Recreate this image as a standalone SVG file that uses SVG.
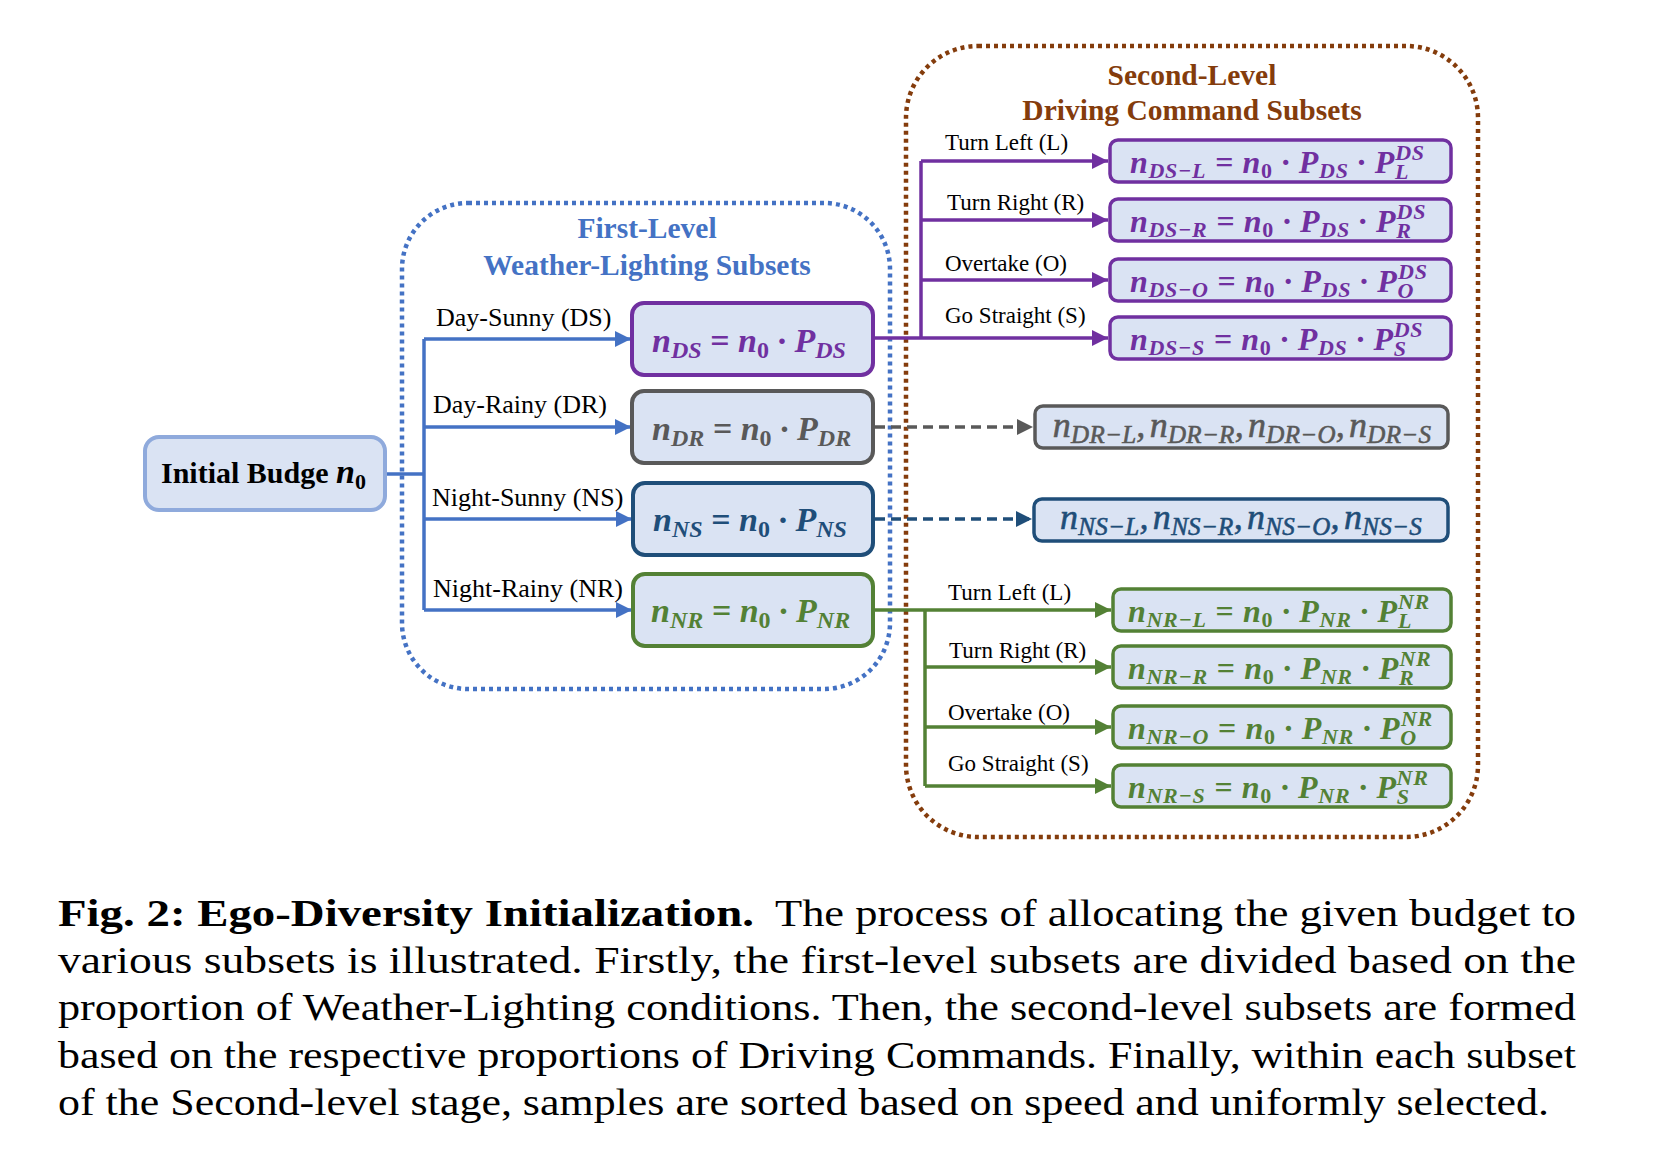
<svg xmlns="http://www.w3.org/2000/svg" width="1658" height="1151" viewBox="0 0 1658 1151">
<style>
.lbl{font-family:"Liberation Serif",serif;font-size:26px;fill:#000}
.lbl2{font-family:"Liberation Serif",serif;font-size:23px;fill:#000}
.ttl{font-family:"Liberation Serif",serif;font-size:29.5px;font-weight:bold;text-anchor:middle}
.box{fill:#DAE3F3;stroke-width:4}
.box2{fill:#DAE3F3;stroke-width:3.5}
.f1{font-family:"Liberation Serif",serif;font-weight:bold;font-style:italic;font-size:34px}
.f1 .s{font-size:24px}
.f2{font-family:"Liberation Serif",serif;font-weight:bold;font-style:italic;font-size:32px;letter-spacing:0.7px}
.f2 .s{font-size:22px}
.f3{font-family:"Liberation Serif",serif;font-style:italic;font-size:36px;letter-spacing:0.3px;text-anchor:middle;stroke-width:0.6px}
.f3 .s{font-size:25px}
.up{font-style:normal}
.cap{font-family:"Liberation Serif",serif;font-size:38px;fill:#000}
.blue{stroke:#4472C4}
.pur{stroke:#7030A0}
.grn{stroke:#538135}
.gry{stroke:#595959}
.nav{stroke:#1F4E79}
.conn{fill:none;stroke-width:3.5}
</style>
<defs>
<marker id="aB" markerUnits="userSpaceOnUse" markerWidth="16" markerHeight="16" viewBox="0 0 16 16" refX="16" refY="8" orient="auto"><path d="M0,0 L16,8 L0,16 Z" fill="#4472C4"/></marker>
<marker id="aP" markerUnits="userSpaceOnUse" markerWidth="16" markerHeight="16" viewBox="0 0 16 16" refX="16" refY="8" orient="auto"><path d="M0,0 L16,8 L0,16 Z" fill="#7030A0"/></marker>
<marker id="aG" markerUnits="userSpaceOnUse" markerWidth="16" markerHeight="16" viewBox="0 0 16 16" refX="16" refY="8" orient="auto"><path d="M0,0 L16,8 L0,16 Z" fill="#538135"/></marker>
<marker id="aY" markerUnits="userSpaceOnUse" markerWidth="16" markerHeight="16" viewBox="0 0 16 16" refX="16" refY="8" orient="auto"><path d="M0,0 L16,8 L0,16 Z" fill="#595959"/></marker>
<marker id="aN" markerUnits="userSpaceOnUse" markerWidth="16" markerHeight="16" viewBox="0 0 16 16" refX="16" refY="8" orient="auto"><path d="M0,0 L16,8 L0,16 Z" fill="#1F4E79"/></marker>
</defs>
<rect width="1658" height="1151" fill="#fff"/>

<!-- containers -->
<g id="first-level-group">
<rect x="402" y="203" width="488" height="486" rx="66" fill="none" stroke="#4472C4" stroke-width="4.5" stroke-dasharray="4 4"/>
<text class="ttl" x="647" y="238" fill="#4472C4">First-Level</text>
<text class="ttl" x="647" y="275" fill="#4472C4">Weather-Lighting Subsets</text>
</g>
<g id="second-level-group">
<rect x="906" y="46" width="572" height="791" rx="72" fill="none" stroke="#843C0C" stroke-width="4.5" stroke-dasharray="4 4"/>
<text class="ttl" x="1192" y="85" fill="#843C0C">Second-Level</text>
<text class="ttl" x="1192" y="120" fill="#843C0C">Driving Command Subsets</text>
</g>

<!-- connectors -->
<g id="connectors">
<path class="conn blue" d="M387,474 H424"/>
<path class="conn blue" d="M424,339 V610"/>
<path class="conn blue" d="M424,339 H631" marker-end="url(#aB)"/>
<path class="conn blue" d="M424,427 H631" marker-end="url(#aB)"/>
<path class="conn blue" d="M424,519 H632" marker-end="url(#aB)"/>
<path class="conn blue" d="M424,610 H632" marker-end="url(#aB)"/>

<path class="conn pur" d="M875,338 H1108" marker-end="url(#aP)"/>
<path class="conn pur" d="M921,161 V338"/>
<path class="conn pur" d="M921,161 H1108" marker-end="url(#aP)"/>
<path class="conn pur" d="M921,220 H1108" marker-end="url(#aP)"/>
<path class="conn pur" d="M921,280 H1108" marker-end="url(#aP)"/>

<path class="conn gry" stroke-width="3" stroke-dasharray="10 6" d="M875,427 H1033" marker-end="url(#aY)"/>
<path class="conn nav" stroke-width="3" stroke-dasharray="10 6" d="M875,519 H1032" marker-end="url(#aN)"/>

<path class="conn grn" d="M875,610 H1111" marker-end="url(#aG)"/>
<path class="conn grn" d="M925,610 V786"/>
<path class="conn grn" d="M925,667 H1111" marker-end="url(#aG)"/>
<path class="conn grn" d="M925,727 H1111" marker-end="url(#aG)"/>
<path class="conn grn" d="M925,786 H1111" marker-end="url(#aG)"/>

<text class="lbl" x="436" y="326">Day-Sunny (DS)</text>
<text class="lbl" x="433" y="413">Day-Rainy (DR)</text>
<text class="lbl" x="432" y="506">Night-Sunny (NS)</text>
<text class="lbl" x="433" y="597">Night-Rainy (NR)</text>

<text class="lbl2" x="945" y="150">Turn Left (L)</text>
<text class="lbl2" x="947" y="210">Turn Right (R)</text>
<text class="lbl2" x="945" y="271">Overtake (O)</text>
<text class="lbl2" x="945" y="323">Go Straight (S)</text>

<text class="lbl2" x="948" y="600">Turn Left (L)</text>
<text class="lbl2" x="949" y="658">Turn Right (R)</text>
<text class="lbl2" x="948" y="720">Overtake (O)</text>
<text class="lbl2" x="948" y="771">Go Straight (S)</text>
</g>

<!-- nodes -->
<g id="initial">
<rect x="145" y="437" width="240" height="73" rx="14" fill="#DAE3F3" stroke="#8FAADC" stroke-width="4"/>
<text x="161" y="483" font-family="Liberation Serif, serif" font-weight="bold" font-size="30" fill="#000">Initial Budge <tspan font-style="italic" font-size="34">n</tspan><tspan font-size="22" dy="6">0</tspan></text>
</g>

<g id="n-DS">
<rect class="box" x="632" y="303" width="241" height="72" rx="12" stroke="#7030A0"/>
<text class="f1" x="652" y="352" fill="#7030A0">n<tspan class="s" dy="6">DS</tspan><tspan dy="-6"> = n</tspan><tspan class="s up" dy="6">0</tspan><tspan dy="-6"> · P</tspan><tspan class="s" dy="6">DS</tspan></text>
</g>
<g id="n-DR">
<rect class="box" x="632" y="391" width="241" height="72" rx="12" stroke="#595959"/>
<text class="f1" x="652" y="440" fill="#595959">n<tspan class="s" dy="6">DR</tspan><tspan dy="-6"> = n</tspan><tspan class="s up" dy="6">0</tspan><tspan dy="-6"> · P</tspan><tspan class="s" dy="6">DR</tspan></text>
</g>
<g id="n-NS">
<rect class="box" x="633" y="483" width="240" height="72" rx="12" stroke="#1F4E79"/>
<text class="f1" x="653" y="531" fill="#1F4E79">n<tspan class="s" dy="6">NS</tspan><tspan dy="-6"> = n</tspan><tspan class="s up" dy="6">0</tspan><tspan dy="-6"> · P</tspan><tspan class="s" dy="6">NS</tspan></text>
</g>
<g id="n-NR">
<rect class="box" x="633" y="574" width="240" height="72" rx="12" stroke="#538135"/>
<text class="f1" x="651" y="622" fill="#538135">n<tspan class="s" dy="6">NR</tspan><tspan dy="-6"> = n</tspan><tspan class="s up" dy="6">0</tspan><tspan dy="-6"> · P</tspan><tspan class="s" dy="6">NR</tspan></text>
</g>

<g id="n-DS-L">
<rect class="box2" x="1110" y="140" width="341" height="42" rx="8" stroke="#7030A0"/>
<text class="f2" x="1130" y="173" fill="#7030A0">n<tspan class="s" dy="5">DS−L</tspan><tspan dy="-5"> = n</tspan><tspan class="s up" dy="5">0</tspan><tspan dy="-5"> · P</tspan><tspan class="s" dy="5">DS</tspan><tspan dy="-5"> · P</tspan><tspan class="s" dy="6">L</tspan><tspan class="s" dx="-14" dy="-19">DS</tspan></text>
</g>
<g id="n-DS-R">
<rect class="box2" x="1110" y="199" width="341" height="42" rx="8" stroke="#7030A0"/>
<text class="f2" x="1130" y="232" fill="#7030A0">n<tspan class="s" dy="5">DS−R</tspan><tspan dy="-5"> = n</tspan><tspan class="s up" dy="5">0</tspan><tspan dy="-5"> · P</tspan><tspan class="s" dy="5">DS</tspan><tspan dy="-5"> · P</tspan><tspan class="s" dy="6">R</tspan><tspan class="s" dx="-15" dy="-19">DS</tspan></text>
</g>
<g id="n-DS-O">
<rect class="box2" x="1110" y="259" width="341" height="42" rx="8" stroke="#7030A0"/>
<text class="f2" x="1130" y="292" fill="#7030A0">n<tspan class="s" dy="5">DS−O</tspan><tspan dy="-5"> = n</tspan><tspan class="s up" dy="5">0</tspan><tspan dy="-5"> · P</tspan><tspan class="s" dy="5">DS</tspan><tspan dy="-5"> · P</tspan><tspan class="s" dy="6">O</tspan><tspan class="s" dx="-16" dy="-19">DS</tspan></text>
</g>
<g id="n-DS-S">
<rect class="box2" x="1110" y="317" width="341" height="42" rx="8" stroke="#7030A0"/>
<text class="f2" x="1130" y="350" fill="#7030A0">n<tspan class="s" dy="5">DS−S</tspan><tspan dy="-5"> = n</tspan><tspan class="s up" dy="5">0</tspan><tspan dy="-5"> · P</tspan><tspan class="s" dy="5">DS</tspan><tspan dy="-5"> · P</tspan><tspan class="s" dy="6">S</tspan><tspan class="s" dx="-13" dy="-19">DS</tspan></text>
</g>

<g id="n-DR-list">
<rect class="box2" x="1035" y="406" width="413" height="42" rx="8" stroke="#595959"/>
<text class="f3" x="1242" y="437" fill="#595959" stroke="#595959">n<tspan class="s" dy="6">DR−L</tspan><tspan dy="-6">,</tspan><tspan dx="4">n</tspan><tspan class="s" dy="6">DR−R</tspan><tspan dy="-6">,</tspan><tspan dx="4">n</tspan><tspan class="s" dy="6">DR−O</tspan><tspan dy="-6">,</tspan><tspan dx="4">n</tspan><tspan class="s" dy="6">DR−S</tspan></text>
</g>
<g id="n-NS-list">
<rect class="box2" x="1034" y="499" width="414" height="42" rx="8" stroke="#1F4E79"/>
<text class="f3" x="1241" y="529" fill="#1F4E79" stroke="#1F4E79">n<tspan class="s" dy="6">NS−L</tspan><tspan dy="-6">,</tspan><tspan dx="4">n</tspan><tspan class="s" dy="6">NS−R</tspan><tspan dy="-6">,</tspan><tspan dx="4">n</tspan><tspan class="s" dy="6">NS−O</tspan><tspan dy="-6">,</tspan><tspan dx="4">n</tspan><tspan class="s" dy="6">NS−S</tspan></text>
</g>

<g id="n-NR-L">
<rect class="box2" x="1113" y="589" width="338" height="42" rx="8" stroke="#538135"/>
<text class="f2" x="1128" y="622" fill="#538135">n<tspan class="s" dy="5">NR−L</tspan><tspan dy="-5"> = n</tspan><tspan class="s up" dy="5">0</tspan><tspan dy="-5"> · P</tspan><tspan class="s" dy="5">NR</tspan><tspan dy="-5"> · P</tspan><tspan class="s" dy="6">L</tspan><tspan class="s" dx="-14" dy="-19">NR</tspan></text>
</g>
<g id="n-NR-R">
<rect class="box2" x="1113" y="646" width="338" height="42" rx="8" stroke="#538135"/>
<text class="f2" x="1128" y="679" fill="#538135">n<tspan class="s" dy="5">NR−R</tspan><tspan dy="-5"> = n</tspan><tspan class="s up" dy="5">0</tspan><tspan dy="-5"> · P</tspan><tspan class="s" dy="5">NR</tspan><tspan dy="-5"> · P</tspan><tspan class="s" dy="6">R</tspan><tspan class="s" dx="-15" dy="-19">NR</tspan></text>
</g>
<g id="n-NR-O">
<rect class="box2" x="1113" y="706" width="338" height="42" rx="8" stroke="#538135"/>
<text class="f2" x="1128" y="739" fill="#538135">n<tspan class="s" dy="5">NR−O</tspan><tspan dy="-5"> = n</tspan><tspan class="s up" dy="5">0</tspan><tspan dy="-5"> · P</tspan><tspan class="s" dy="5">NR</tspan><tspan dy="-5"> · P</tspan><tspan class="s" dy="6">O</tspan><tspan class="s" dx="-16" dy="-19">NR</tspan></text>
</g>
<g id="n-NR-S">
<rect class="box2" x="1113" y="765" width="338" height="42" rx="8" stroke="#538135"/>
<text class="f2" x="1128" y="798" fill="#538135">n<tspan class="s" dy="5">NR−S</tspan><tspan dy="-5"> = n</tspan><tspan class="s up" dy="5">0</tspan><tspan dy="-5"> · P</tspan><tspan class="s" dy="5">NR</tspan><tspan dy="-5"> · P</tspan><tspan class="s" dy="6">S</tspan><tspan class="s" dx="-13" dy="-19">NR</tspan></text>
</g>

<!-- caption -->
<g id="caption">
<text class="cap" x="58" y="926" font-weight="bold" textLength="696" lengthAdjust="spacingAndGlyphs">Fig. 2: Ego-Diversity Initialization.</text>
<text class="cap" x="775" y="926" textLength="801" lengthAdjust="spacingAndGlyphs">The process of allocating the given budget to</text>
<text class="cap" x="58" y="973" textLength="1518" lengthAdjust="spacingAndGlyphs">various subsets is illustrated. Firstly, the first-level subsets are divided based on the</text>
<text class="cap" x="58" y="1020" textLength="1518" lengthAdjust="spacingAndGlyphs">proportion of Weather-Lighting conditions. Then, the second-level subsets are formed</text>
<text class="cap" x="58" y="1068" textLength="1518" lengthAdjust="spacingAndGlyphs">based on the respective proportions of Driving Commands. Finally, within each subset</text>
<text class="cap" x="58" y="1115" textLength="1491" lengthAdjust="spacingAndGlyphs">of the Second-level stage, samples are sorted based on speed and uniformly selected.</text>
</g>
</svg>
